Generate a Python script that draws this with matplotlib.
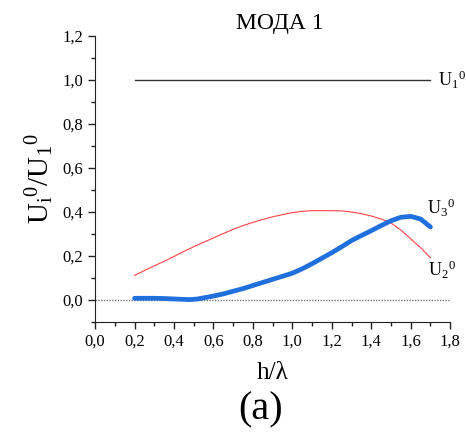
import matplotlib
matplotlib.use("Agg")
import matplotlib.pyplot as plt
from matplotlib.ticker import MultipleLocator, FuncFormatter
import numpy as np

plt.rcParams['font.family'] = ['Liberation Serif', 'DejaVu Serif']
plt.rcParams['mathtext.fontset'] = 'custom'
plt.rcParams['mathtext.rm'] = 'Liberation Serif'
plt.rcParams['mathtext.it'] = 'Liberation Serif:italic'

# ---- data ----
h1 = [0.2, 1.7]
u1 = [1.0, 1.0]

h2 = [0.2, 0.25, 0.3, 0.35, 0.4, 0.45, 0.5, 0.55, 0.6, 0.65, 0.7, 0.75, 0.8,
      0.85, 0.9, 0.95, 1.0, 1.05, 1.1, 1.15, 1.2, 1.25, 1.3, 1.35, 1.4, 1.45,
      1.5, 1.55, 1.6, 1.65, 1.7]
u2 = [0.112, 0.134, 0.155, 0.176, 0.198, 0.221, 0.242, 0.262, 0.282, 0.302,
      0.321, 0.338, 0.353, 0.366, 0.378, 0.388, 0.397, 0.403, 0.406, 0.406,
      0.406, 0.405, 0.400, 0.392, 0.382, 0.368, 0.350, 0.318, 0.278, 0.238, 0.192]

h3 = [0.2, 0.25, 0.3, 0.35, 0.4, 0.45, 0.48, 0.52, 0.55, 0.6, 0.65, 0.7, 0.75,
      0.8, 0.85, 0.9, 0.95, 1.0, 1.05, 1.1, 1.15, 1.2, 1.25, 1.3, 1.35, 1.4,
      1.45, 1.5, 1.55, 1.6, 1.65, 1.7]
u3 = [0.008, 0.008, 0.008, 0.007, 0.005, 0.003, 0.002, 0.005, 0.010, 0.018,
      0.028, 0.040, 0.052, 0.066, 0.080, 0.094, 0.108, 0.122, 0.142, 0.165,
      0.190, 0.215, 0.242, 0.270, 0.293, 0.315, 0.338, 0.360, 0.376, 0.380,
      0.368, 0.332]

fig = plt.figure(figsize=(4.66, 4.37), dpi=100)
ax = fig.add_axes([0.204, 0.263, 0.762, 0.655])

ax.axhline(0, color='#777777', lw=1.0, ls=(0, (1, 1)))
ax.plot(h1, u1, color='#333333', lw=1.0)
ax.plot(h2, u2, color='#ff4444', lw=0.8)
ax.plot(h3, u3, color='#1f6fdc', lw=3.4, solid_capstyle='round')

ax.set_xlim(0, 1.8)
ax.set_ylim(-0.1, 1.2)
ax.xaxis.set_major_locator(MultipleLocator(0.2))
ax.xaxis.set_minor_locator(MultipleLocator(0.1))
ax.yaxis.set_major_locator(MultipleLocator(0.2))
ax.yaxis.set_minor_locator(MultipleLocator(0.1))
comma = FuncFormatter(lambda v, p: f"{v:.1f}".replace('.', ',').replace('-0,0', '0,0'))
ax.xaxis.set_major_formatter(comma)
ax.yaxis.set_major_formatter(comma)
ax.tick_params(which='major', length=5, width=1, labelsize=12, color='#222222')
ax.tick_params(which='minor', length=3, width=1, color='#222222')
for s in ['top', 'right']:
    ax.spines[s].set_visible(False)
for s in ['left', 'bottom']:
    ax.spines[s].set_color('#222222')

ax.set_title('МОДА 1', fontsize=17, pad=5, x=0.52)
ax.set_ylabel(r'$\mathrm{U_i}^{0}\mathrm{/U_1}^{0}$', fontsize=21, labelpad=5)
ax.set_xlabel('h/λ', fontsize=18, labelpad=9)

ax.text(1.736, 1.0, r'$\mathrm{U_1}^{0}$', fontsize=13, va='center', ha='left')
ax.text(1.685, 0.42, r'$\mathrm{U_3}^{0}$', fontsize=13, va='center', ha='left')
ax.text(1.69, 0.136, r'$\mathrm{U_2}^{0}$', fontsize=13, va='center', ha='left')

fig.text(0.56, 0.062, '(a)', fontsize=29, ha='center', va='center')

fig.savefig('out.png', dpi=100)
